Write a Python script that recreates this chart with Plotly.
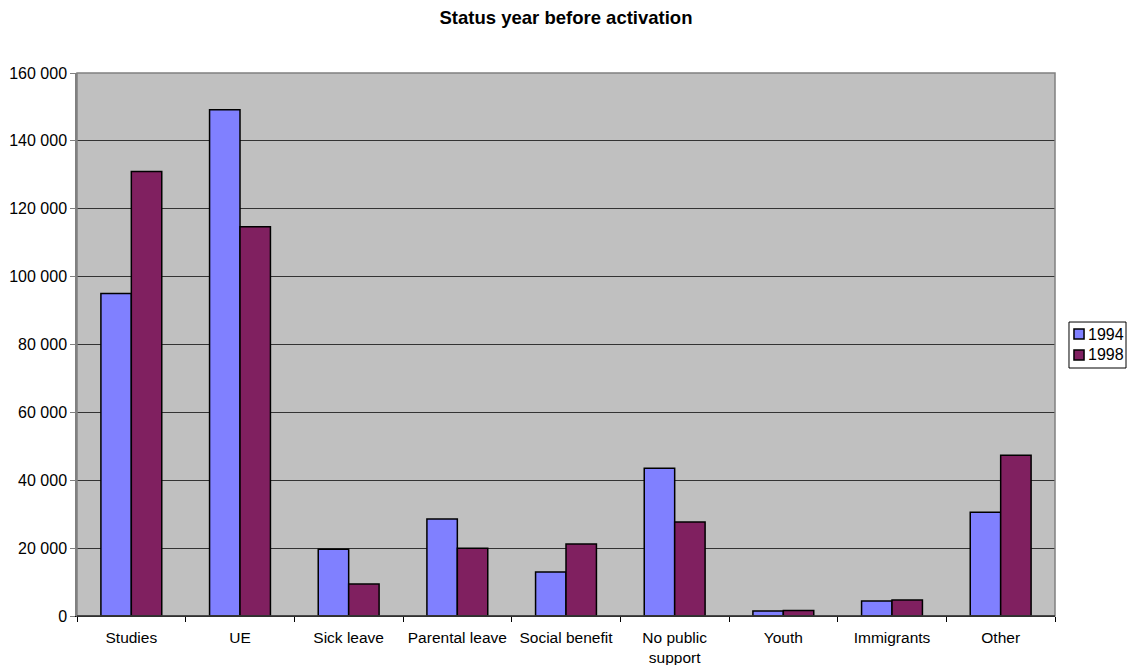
import plotly.graph_objects as go

categories = ["Studies", "UE", "Sick leave", "Parental leave", "Social benefit",
              "No public<br>support", "Youth", "Immigrants", "Other"]
values_1994 = [95000, 149200, 19700, 28600, 13000, 43500, 1500, 4400, 30600]
values_1998 = [131000, 114700, 9400, 20000, 21200, 27700, 1600, 4700, 47400]
series_names = ["1994", "1998"]
series_colors = ["#8080FF", "#802060"]
y_ticks = [0, 20000, 40000, 60000, 80000, 100000, 120000, 140000, 160000]

fig = go.Figure()
for name, vals, col in zip(series_names, [values_1994, values_1998], series_colors):
    fig.add_trace(go.Bar(name=name, x=categories, y=vals, showlegend=False,
                         marker=dict(color=col, line=dict(color="#000000", width=1.5))))

font_family = "Liberation Sans, Arial, sans-serif"
fig.update_layout(
    width=1128, height=665,
    margin=dict(l=77, r=73, t=73, b=49, autoexpand=False),
    paper_bgcolor="white", plot_bgcolor="#C0C0C0",
    separators=", ",
    barmode="group", bargap=0.44, bargroupgap=0.0,
    font=dict(family=font_family, size=16, color="black"),
    title=dict(text="<b>Status year before activation</b>", x=0.5, xanchor="center",
               xref="paper", y=1 - 18 / 665, yanchor="middle",
               font=dict(size=18.5, family=font_family)),
    xaxis=dict(showline=True, linecolor="black", linewidth=1, ticks="outside",
               tickson="boundaries", ticklen=5, tickcolor="black", tickangle=0,
               ticklabelstandoff=7,
               tickfont=dict(size=15.5), showgrid=False, automargin=False),
    yaxis=dict(range=[0, 160000], tickvals=y_ticks, tickformat=",d",
               showline=True, linecolor="#808080", linewidth=1.5,
               ticks="outside", ticklen=5, tickcolor="#808080",
               showgrid=True, gridcolor="#333333", gridwidth=1,
               zeroline=False, tickfont=dict(size=16), automargin=False),
)
fig.add_shape(type="rect", xref="paper", yref="paper", x0=0, x1=1, y0=0, y1=1,
              line=dict(color="#808080", width=1.5), layer="above")
fig.add_shape(type="line", xref="paper", yref="paper", x0=0, x1=1, y0=0, y1=0,
              line=dict(color="black", width=1), layer="above")

# Legend (Excel style compact box)
fig.add_shape(type="rect", xref="paper", yref="paper", x0=1.0143, x1=1.0726,
              y0=0.4567, y1=0.5414, line=dict(color="black", width=1),
              fillcolor="white", layer="above")
legend_rows = [(0.5101, 0.5285, 0.5193), (0.4715, 0.4899, 0.4807)]
for (y0, y1, yt), name, col in zip(legend_rows, series_names, series_colors):
    fig.add_shape(type="rect", xref="paper", yref="paper", x0=1.0194, x1=1.0297,
                  y0=y0, y1=y1, line=dict(color="black", width=1.5), fillcolor=col,
                  layer="above")
    fig.add_annotation(xref="paper", yref="paper", x=1.0317, y=yt, text=name,
                       showarrow=False, xanchor="left", yanchor="middle",
                       font=dict(size=16, family=font_family))

fig.write_html("out.html", config={"displayModeBar": False},
               post_script="document.body.style.margin='0';")
